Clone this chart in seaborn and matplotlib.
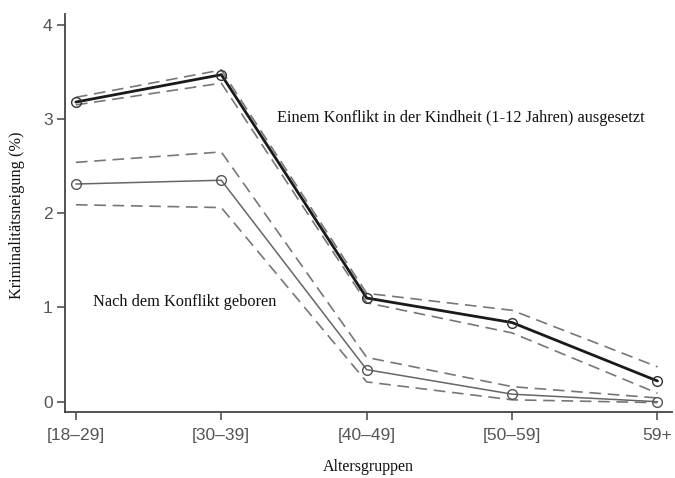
import matplotlib
matplotlib.use("Agg")
import matplotlib.pyplot as plt
import seaborn as sns
import pandas as pd

age_groups = ["[18–29]", "[30–39]", "[40–49]", "[50–59]", "59+"]

exposed_mean = [3.18, 3.47, 1.10, 0.84, 0.22]
exposed_upper = [3.23, 3.52, 1.15, 0.97, 0.37]
exposed_lower = [3.15, 3.38, 1.05, 0.73, 0.09]

born_after_mean = [2.31, 2.35, 0.34, 0.08, 0.00]
born_after_upper = [2.54, 2.65, 0.47, 0.16, 0.04]
born_after_lower = [2.09, 2.06, 0.21, 0.02, -0.01]

yticks = [0, 1, 2, 3, 4]

sns.set_theme(style="white")
plt.rcParams["font.family"] = ["Liberation Sans", "DejaVu Sans"]

fig = plt.figure(figsize=(6.75, 4.78), dpi=100)
ax = fig.add_axes([0.0963, 0.1387, 0.8993, 0.832])

pos = list(range(len(age_groups)))
dash_kw = dict(color="#777777", linewidth=1.2, linestyle=(0, (7, 4)))

for vals in [exposed_upper, exposed_lower, born_after_upper, born_after_lower]:
    df = pd.DataFrame({"x": pos, "y": vals})
    sns.lineplot(data=df, x="x", y="y", ax=ax, **dash_kw)

df1 = pd.DataFrame({"x": pos, "y": exposed_mean})
sns.lineplot(data=df1, x="x", y="y", ax=ax, color="#1a1a1a", linewidth=2.0,
             marker="o", markersize=7, markerfacecolor="none",
             markeredgecolor="#333333", markeredgewidth=1.0)
df2 = pd.DataFrame({"x": pos, "y": born_after_mean})
sns.lineplot(data=df2, x="x", y="y", ax=ax, color="#666666", linewidth=1.1,
             marker="o", markersize=7, markerfacecolor="none",
             markeredgecolor="#555555", markeredgewidth=1.0)

ax.set_xlim(-0.075, 4.1)
ax.set_ylim(-0.106, 4.114)
ax.set_xticks(pos)
ax.set_xticklabels(age_groups)
ax.set_yticks(yticks)
ax.set_yticklabels([str(t) for t in yticks])

for s in ["top", "right"]:
    ax.spines[s].set_visible(False)
for s in ["left", "bottom"]:
    ax.spines[s].set_color("#444444")
    ax.spines[s].set_linewidth(1.3)

ax.tick_params(axis="both", which="major", direction="out", length=6,
               width=1.1, color="#444444", labelcolor="#555555",
               labelsize=12.5, left=True, bottom=True)
ax.tick_params(axis="y", pad=3)
ax.tick_params(axis="x", pad=6)

serif = ["Liberation Serif", "DejaVu Serif"]
ax.set_xlabel("Altersgruppen", family=serif, fontsize=11.5, color="#111111")
ax.xaxis.set_label_coords(0.5, -0.118)
ax.set_ylabel("Kriminalitätsneigung (%)", family=serif, fontsize=11.8, color="#111111")
ax.yaxis.set_label_coords(-0.066, 0.495)

ax.text(1.38, 3.01, "Einem Konflikt in der Kindheit (1-12 Jahren) ausgesetzt",
        family=serif, fontsize=11.7, color="#111111", va="center", ha="left")
ax.text(0.12, 1.06, "Nach dem Konflikt geboren",
        family=serif, fontsize=11.8, color="#111111", va="center", ha="left")

fig.savefig("out.png", dpi=100)
